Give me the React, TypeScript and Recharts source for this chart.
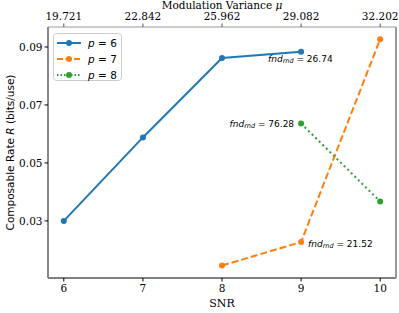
import React from 'react';
import { LineChart, Line, XAxis, YAxis, Legend, ReferenceDot, Label } from 'recharts';

const snrTicks = [6, 7, 8, 9, 10];
const muTickLabels = ['19.721', '22.842', '25.962', '29.082', '32.202'];
const yTicks = [0.03, 0.05, 0.07, 0.09];

const p6Snr = [6, 7, 8, 9];
const p6Rate = [0.03, 0.0588, 0.0862, 0.0884];
const p7Snr = [8, 9, 10];
const p7Rate = [0.0146, 0.0227, 0.0927];
const p8Snr = [9, 10];
const p8Rate = [0.0636, 0.0367];

const fndSnr = [9, 9, 9];
const fndRate = [0.0884, 0.0636, 0.0227];
const fndValues = ['26.74', '76.28', '21.52'];

const BLUE = '#1f77b4';
const ORANGE = '#ff7f0e';
const GREEN = '#2ca02c';
const SERIF = '"DejaVu Serif", serif';
const SANS = '"DejaVu Sans", sans-serif';

const toPoints = (xs: number[], ys: number[]) => xs.map((x, i) => ({ snr: x, rate: ys[i] }));
const p6Data = toPoints(p6Snr, p6Rate);
const p7Data = toPoints(p7Snr, p7Rate);
const p8Data = toPoints(p8Snr, p8Rate);

const annStyle = [
  { dx: -33, dy: 7, anchor: 'start' },
  { dx: -7, dy: 0, anchor: 'end' },
  { dx: 7, dy: 2, anchor: 'start' },
];

const legendItems = [
  { label: '6', color: BLUE, dash: undefined as string | undefined },
  { label: '7', color: ORANGE, dash: '6 2.5' },
  { label: '8', color: GREEN, dash: '1.5 2' },
];

const LegendBox = () => (
  <svg width={69} height={48} style={{ display: 'block' }}>
    <rect x={0.5} y={0.5} width={68} height={47} rx={3} fill="rgba(255,255,255,0.8)" stroke="#cccccc" />
    {legendItems.map((it, i) => {
      const cy = 10 + i * 16;
      return (
        <g key={i}>
          <line x1={4} x2={28} y1={cy} y2={cy} stroke={it.color} strokeWidth={2} strokeDasharray={it.dash} />
          <circle cx={16} cy={cy} r={3} fill={it.color} />
          <text x={35} y={cy} dominantBaseline="central" fontFamily={SANS} fontSize={10.5} fill="#000">
            <tspan fontStyle="italic">p</tspan>
            <tspan> = {it.label}</tspan>
          </text>
        </g>
      );
    })}
  </svg>
);

const makeAnnLabel = (i: number) => (props: any) => {
  const vb = props.viewBox || {};
  const cx = vb.x + (vb.width || 0) / 2;
  const cy = vb.y + (vb.height || 0) / 2;
  const s = annStyle[i];
  return (
    <text
      x={cx + s.dx}
      y={cy + s.dy}
      textAnchor={s.anchor as any}
      dominantBaseline="central"
      fontFamily={SANS}
      fontSize={9}
      fill="#000"
    >
      <tspan fontStyle="italic">fnd</tspan>
      <tspan fontStyle="italic" fontSize={6.5} dy={2}>rnd</tspan>
      <tspan dy={-2}> = {fndValues[i]}</tspan>
    </text>
  );
};

const YTitle = (props: any) => {
  const vb = props.viewBox || {};
  const cy = vb.y + vb.height / 2;
  return (
    <text
      x={9.5}
      y={cy}
      transform={`rotate(-90 9.5 ${cy})`}
      textAnchor="middle"
      dominantBaseline="central"
      fontFamily={SANS}
      fontSize={10.5}
      fill="#000"
    >
      <tspan>Composable Rate </tspan>
      <tspan fontStyle="italic">R</tspan>
      <tspan> (bits/use)</tspan>
    </text>
  );
};

const XTitle = (props: any) => {
  const vb = props.viewBox || {};
  return (
    <text x={vb.x + vb.width / 2} y={303} textAnchor="middle" dominantBaseline="central" fontFamily={SERIF} fontSize={11} fill="#000">
      SNR
    </text>
  );
};

const TopTitle = (props: any) => {
  const vb = props.viewBox || {};
  return (
    <text x={vb.x + vb.width / 2} y={4.5} textAnchor="middle" dominantBaseline="central" fontFamily={SERIF} fontSize={10.5} fill="#000">
      <tspan>Modulation Variance </tspan>
      <tspan fontStyle="italic">μ</tspan>
    </text>
  );
};

export default function App() {
  const tickStyle = { fontFamily: SERIF, fontSize: 10.5, fill: '#000' };
  return (
    <div style={{ position: 'absolute', left: 0, top: 0, width: 399, height: 313, background: '#fff' }}>
      <LineChart width={399} height={313} margin={{ top: 0, right: 0, bottom: 0, left: 0 }}>
        <XAxis
          xAxisId="bottom"
          dataKey="snr"
          type="number"
          domain={[5.8, 10.2]}
          ticks={snrTicks}
          height={35}
          tickSize={3.5}
          tickMargin={3}
          tick={tickStyle}
          axisLine={{ stroke: '#000', strokeWidth: 1 }}
          tickLine={{ stroke: '#000' }}
          allowDataOverflow
        >
          <Label content={XTitle} />
        </XAxis>
        <XAxis
          xAxisId="top"
          orientation="top"
          dataKey="snr"
          type="number"
          domain={[5.8, 10.2]}
          ticks={snrTicks}
          tickFormatter={(v: number) => muTickLabels[snrTicks.indexOf(v)] ?? ''}
          height={27}
          tickSize={3.5}
          tickMargin={4}
          tick={tickStyle}
          axisLine={{ stroke: '#999', strokeWidth: 1 }}
          tickLine={{ stroke: '#555' }}
          allowDataOverflow
        >
          <Label content={TopTitle} />
        </XAxis>
        <YAxis
          yAxisId="left"
          type="number"
          domain={[0.0103, 0.0969]}
          ticks={yTicks}
          tickFormatter={(v: number) => v.toFixed(2)}
          width={48}
          tickSize={3.5}
          tickMargin={2}
          tick={tickStyle}
          axisLine={{ stroke: '#888', strokeWidth: 2 }}
          tickLine={{ stroke: '#000' }}
          allowDataOverflow
        >
          <Label content={YTitle} />
        </YAxis>
        <YAxis
          yAxisId="right"
          orientation="right"
          type="number"
          domain={[0.0103, 0.0969]}
          width={3}
          tick={false}
          tickLine={false}
          axisLine={{ stroke: '#999', strokeWidth: 2 }}
        />
        <Line
          xAxisId="bottom"
          yAxisId="left"
          data={p6Data}
          dataKey="rate"
          name="p6"
          stroke={BLUE}
          strokeWidth={2}
          dot={{ r: 3, fill: BLUE, stroke: BLUE, strokeWidth: 0 }}
          isAnimationActive={false}
        />
        <Line
          xAxisId="bottom"
          yAxisId="left"
          data={p7Data}
          dataKey="rate"
          name="p7"
          stroke={ORANGE}
          strokeWidth={2}
          strokeDasharray="7 3"
          dot={{ r: 3, fill: ORANGE, stroke: ORANGE, strokeWidth: 0, strokeDasharray: '' }}
          isAnimationActive={false}
        />
        <Line
          xAxisId="bottom"
          yAxisId="left"
          data={p8Data}
          dataKey="rate"
          name="p8"
          stroke={GREEN}
          strokeWidth={2}
          strokeDasharray="2 3"
          dot={{ r: 3, fill: GREEN, stroke: GREEN, strokeWidth: 0, strokeDasharray: '' }}
          isAnimationActive={false}
        />
        {fndSnr.map((x, i) => (
          <ReferenceDot
            key={i}
            xAxisId="bottom"
            yAxisId="left"
            x={x}
            y={fndRate[i]}
            r={1}
            fill="none"
            stroke="none"
            label={makeAnnLabel(i)}
          />
        ))}
        <Legend
          layout="vertical"
          align="center"
          verticalAlign="middle"
          content={() => <LegendBox />}
          wrapperStyle={{ position: 'absolute', left: 53, top: 33, width: 69, height: 48 }}
        />
      </LineChart>
    </div>
  );
}
